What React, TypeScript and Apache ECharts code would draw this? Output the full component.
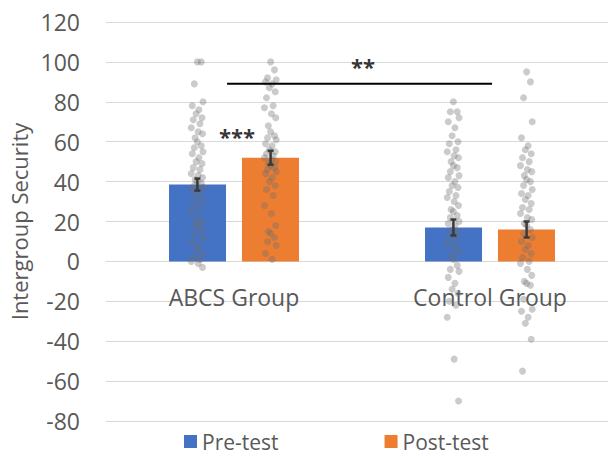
import React, { useEffect, useRef } from "react";
import * as echarts from "echarts";

const categories = ["ABCS Group", "Control Group"];
const seriesNames = ["Pre-test", "Post-test"];
const preMeans = [38.5, 17];
const postMeans = [52, 16];
const preErrors = [3, 4];
const postErrors = [3.5, 4];

const abcsPre = [100, 100, 89, 80, 78, 76, 74, 72, 71, 69, 67, 65, 64, 62, 60, 58, 57, 55, 54, 52, 50, 49, 47, 46, 44, 43, 42, 41, 40, 39, 38, 37, 36, 35, 33, 31, 29, 27, 25, 22, 20, 19, 18, 16, 14, 12, 10, 8, 6, 4, 2, 1, 0, -1, -3];
const abcsPost = [100, 96, 92, 91, 90, 89, 87, 85, 82, 78, 77, 74, 72, 68, 65, 63, 62, 61, 59, 58, 56, 55, 54, 53, 52, 51, 50, 49, 48, 47, 46, 45, 44, 42, 40, 38, 36, 33, 28, 24, 18, 15, 14, 12, 10, 8, 4, 1];
const controlPre = [80, 75, 75, 72, 70, 67, 63, 60, 59, 56, 55, 53, 52, 50, 48, 47, 45, 43, 42, 40, 38, 37, 35, 33, 32, 30, 28, 26, 25, 23, 22, 20, 19, 18, 16, 15, 13, 11, 9, 7, 5, 3, 1, -2, -4, -5, -8, -11, -14, -16, -20, -22, -28, -49, -70];
const controlPost = [95, 90, 82, 70, 62, 58, 56, 54, 52, 50, 48, 46, 45, 43, 41, 40, 38, 36, 34, 33, 31, 29, 27, 26, 24, 22, 21, 19, 18, 16, 14, 12, 10, 8, 6, 4, 2, 0, -1, -4, -7, -10, -11, -12, -19, -24, -25, -28, -31, -39, -55];

// significance annotations
const sigLineY = 89;
const sigLineFrom = 0.473;
const sigLineTo = 1.508;
const sigMarks: [number, number, string][] = [
  [0.512, 63, "***"],
  [1.004, 98, "**"],
];

// layout constants (positions in category units of the hidden value axis)
const BAR_OFFSET = 0.143;
const JITTER = [0, 0.015, -0.012, 0.022, -0.02, 0.006, -0.005, 0.018, -0.016, 0.01, -0.024, 0.003, 0.02, -0.009];

const BLUE = "#4472C4";
const ORANGE = "#ED7D31";
const TEXT = "#595959";
const FONT = "'Open Sans', sans-serif";

function jittered(values: number[], center: number) {
  return values.map((v, i) => [center + JITTER[i % JITTER.length], v]);
}

export default function App() {
  const ref = useRef<HTMLDivElement>(null);
  useEffect(() => {
    if (!ref.current) return;
    const chart = echarts.init(ref.current, undefined, { renderer: "svg" });
    const points = [
      ...jittered(abcsPre, 0.5 - BAR_OFFSET),
      ...jittered(abcsPost, 0.5 + BAR_OFFSET),
      ...jittered(controlPre, 1.5 - BAR_OFFSET),
      ...jittered(controlPost, 1.5 + BAR_OFFSET),
    ];
    const errData = [
      [0.5 - BAR_OFFSET, preMeans[0], preErrors[0]],
      [0.5 + BAR_OFFSET, postMeans[0], postErrors[0]],
      [1.5 - BAR_OFFSET, preMeans[1], preErrors[1]],
      [1.5 + BAR_OFFSET, postMeans[1], postErrors[1]],
    ];
    chart.setOption({
      animation: false,
      textStyle: { fontFamily: FONT },
      grid: { left: 106, top: 22, width: 512, height: 399, outerBoundsMode: "none", containLabel: false },
      legend: {
        data: seriesNames,
        left: 184,
        top: 431,
        padding: 0,
        icon: "rect",
        itemWidth: 13,
        itemHeight: 13,
        itemGap: 106,
        textStyle: { fontSize: 21, lineHeight: 20, color: TEXT, fontFamily: FONT },
      },
      xAxis: [
        {
          type: "category",
          data: categories,
          position: "bottom",
          offset: -160,
          axisLine: { onZero: false, lineStyle: { color: "#D9D9D9" } },
          axisTick: { show: false },
          axisLabel: { fontSize: 23, color: TEXT, margin: 24, fontFamily: FONT },
        },
        { type: "value", min: 0, max: 2, show: false },
      ],
      yAxis: {
        type: "value",
        min: -80,
        max: 120,
        interval: 20,
        name: "Intergroup Security",
        nameLocation: "middle",
        nameGap: 72,
        nameTextStyle: { fontSize: 22, color: TEXT, fontFamily: FONT },
        axisLine: { show: false },
        axisTick: { show: false },
        axisLabel: { fontSize: 23, color: TEXT, margin: 26, fontFamily: FONT },
        splitLine: { lineStyle: { color: "#D9D9D9", width: 1 } },
      },
      series: [
        {
          name: seriesNames[0],
          type: "bar",
          data: preMeans,
          barWidth: 57,
          barGap: "28%",
          itemStyle: { color: BLUE },
        },
        {
          name: seriesNames[1],
          type: "bar",
          data: postMeans,
          barWidth: 57,
          barGap: "28%",
          itemStyle: { color: ORANGE },
        },
        {
          type: "custom",
          xAxisIndex: 1,
          data: errData,
          z: 5,
          renderItem: (params: any, api: any) => {
            const x = api.value(0);
            const m = api.value(1);
            const e = api.value(2);
            const top = api.coord([x, m + e]);
            const bot = api.coord([x, m - e]);
            const style = { stroke: "#3a3a3a", lineWidth: 2.5 };
            return {
              type: "group",
              children: [
                { type: "line", shape: { x1: top[0], y1: top[1], x2: bot[0], y2: bot[1] }, style },
                { type: "line", shape: { x1: top[0] - 3, y1: top[1], x2: top[0] + 3, y2: top[1] }, style },
                { type: "line", shape: { x1: bot[0] - 3, y1: bot[1], x2: bot[0] + 3, y2: bot[1] }, style },
              ],
            };
          },
        },
        {
          type: "scatter",
          xAxisIndex: 1,
          data: points,
          symbolSize: 7,
          z: 4,
          itemStyle: { color: "rgba(110,110,110,0.45)" },
          silent: true,
        },
        {
          type: "line",
          xAxisIndex: 1,
          data: [
            [sigLineFrom, sigLineY],
            [sigLineTo, sigLineY],
          ],
          symbol: "none",
          lineStyle: { color: "#000", width: 2 },
          z: 6,
        },
        {
          type: "scatter",
          xAxisIndex: 1,
          data: sigMarks.map((d) => [d[0], d[1], d[2]]),
          symbolSize: 0,
          itemStyle: { color: "rgba(0,0,0,0)" },
          z: 7,
          label: {
            show: true,
            position: "inside",
            formatter: (p: any) => p.value[2],
            fontSize: 22,
            fontWeight: "bold",
            color: "#000",
            fontFamily: FONT,
          },
        },
      ],
    });
    return () => chart.dispose();
  }, []);
  return (
    <div
      ref={ref}
      style={{ position: "fixed", left: 0, top: 0, width: 608, height: 457, background: "#fff" }}
    />
  );
}
